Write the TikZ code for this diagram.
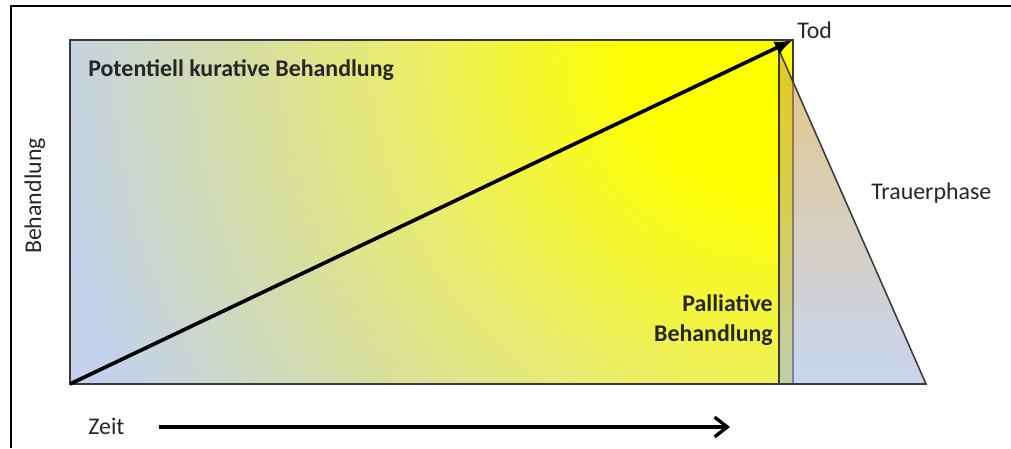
\documentclass[tikz,border=0pt]{standalone}
\usepackage{fontspec}
\setmainfont{Carlito}
\usepackage{xcolor}
\definecolor{PHblue}{HTML}{C3D1EC}
\definecolor{PHgreen}{HTML}{D6DEA2}
\definecolor{PHpale}{HTML}{E9EC70}
\definecolor{PHyellow}{HTML}{FFFF00}
\definecolor{PHtan}{HTML}{D4A436}
\definecolor{PHsky}{HTML}{A4B8E6}
\definecolor{PHtext}{HTML}{262626}
\definecolor{PHedge}{HTML}{3A3A3A}
\usepackage{tikz}
\usetikzlibrary{arrows.meta, positioning}
\pgfdeclareradialshading{sunglow}{\pgfpoint{0bp}{0bp}}{%
  color(0bp)=(PHyellow); color(5bp)=(PHyellow);
  color(13bp)=(PHpale); color(18bp)=(PHgreen);
  color(25bp)=(PHblue); color(50bp)=(PHblue)}

\begin{document}
\begin{tikzpicture}[x=0.025cm, y=-0.025cm,
    lbl/.style={PHtext, font=\fontsize{17}{20}\selectfont, inner sep=0pt},
    boldlbl/.style={lbl, font=\fontsize{17}{21}\selectfont\bfseries}]
    \useasboundingbox (0,0) rectangle (1011,448);
    % Frame
    \draw[line width=1.4pt] (11,448) -- (11,6) -- (1011,6);
    % Corners
    \coordinate (nw) at (70,40);
    \coordinate (se) at (793,384);
    \coordinate (start) at (70,384);
    \coordinate (tip) at (793,40);
    \coordinate (tritop) at (779,50);
    \coordinate (tril) at (779,384);
    \coordinate (trir) at (926,384);
    % Treatment area
    \begin{scope}
      \clip (nw) rectangle (se);
      \fill[PHblue] (nw) rectangle (se);
      \shade[shading=sunglow] (780,45) circle (740);
    \end{scope}
    \draw[PHedge, line width=1.2pt] (nw) rectangle (se);
    % Grief phase
    \shade[top color=PHtan, bottom color=PHsky, opacity=0.6]
      (tritop) -- (trir) -- (tril) -- cycle;
    \draw[PHedge, line width=1.1pt] (tritop) -- (trir) -- (tril) -- cycle;
    % Main arrow
    \draw[line width=2.6pt, -{Latex[length=13pt, width=10pt]}] (start) -- (tip);
    % Labels
    \node[boldlbl, anchor=west] (kurativ) at (88,70) {Potentiell kurative Behandlung};
    \node[boldlbl, align=right, anchor=east] (palliativ) at (773,320)
      {Palliative\\Behandlung};
    \node[lbl, anchor=west] (tod) at (797,30) {Tod};
    \node[lbl, anchor=west] (trauer) at (871,193) {Trauerphase};
    \node[lbl, rotate=90] (behandlung) at (35,196) {Behandlung};
    \node[lbl, anchor=west] (zeit) at (88,426) {Zeit};
    \coordinate[right=34 of zeit.east] (zs);
    \coordinate (ze) at (730,427);
    \draw[line width=2.6pt, -{Straight Barb[length=9pt, width=14pt, line width=2.4pt]}]
      (zs |- ze) -- (ze);
\end{tikzpicture}
\end{document}
